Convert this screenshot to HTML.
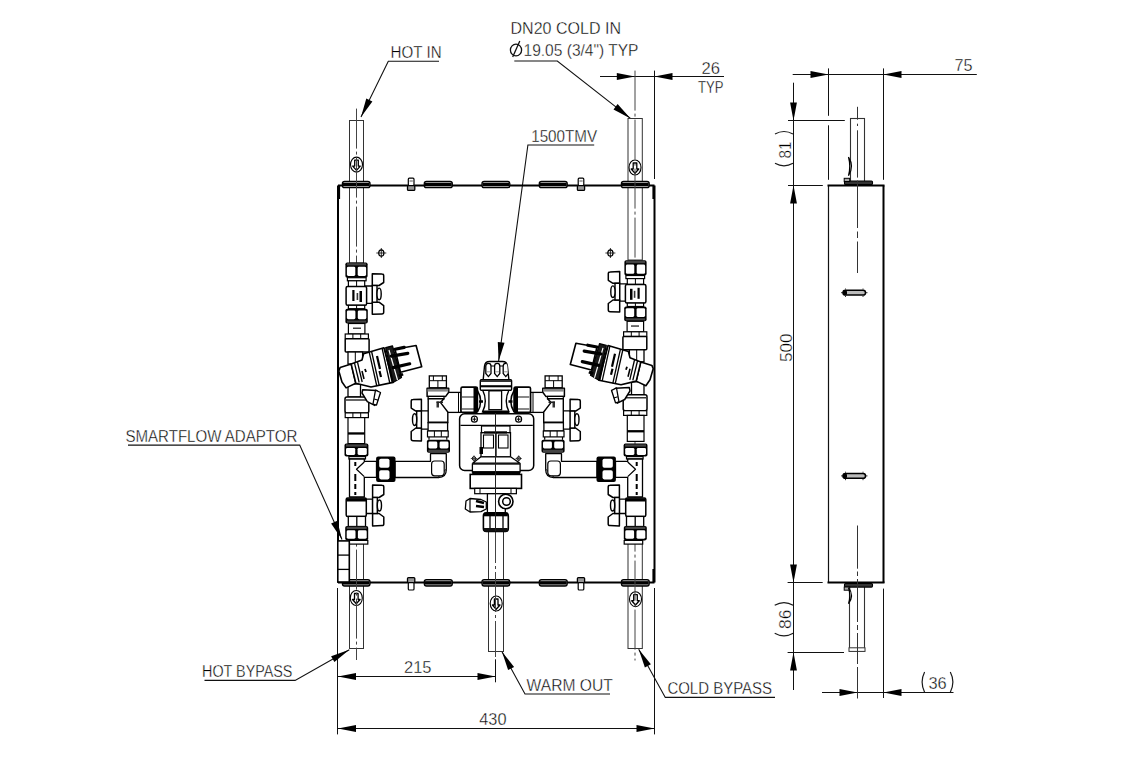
<!DOCTYPE html>
<html><head><meta charset="utf-8"><style>
html,body{margin:0;padding:0;background:#fff;width:1140px;height:760px;overflow:hidden}
svg{display:block}
text{font-family:"Liberation Sans",sans-serif;fill:#000;font-size:16px;stroke:#fff;stroke-width:0.35}
</style></head><body>
<svg width="1140" height="760" viewBox="0 0 1140 760">


<g id="texts">
<text x="390.6" y="57.6" textLength="51" lengthAdjust="spacingAndGlyphs">HOT IN</text>
<text x="510.5" y="33.6" textLength="110.5" lengthAdjust="spacingAndGlyphs">DN20 COLD IN</text>
<text x="523.5" y="55.5" textLength="115" lengthAdjust="spacingAndGlyphs">19.05 (3/4") TYP</text>
<text x="701.5" y="73.5" textLength="18.5" lengthAdjust="spacingAndGlyphs">26</text>
<text x="698" y="92.7" textLength="25.5" lengthAdjust="spacingAndGlyphs">TYP</text>
<text x="954.5" y="71" textLength="18" lengthAdjust="spacingAndGlyphs">75</text>
<text x="531.2" y="141.5" textLength="66" lengthAdjust="spacingAndGlyphs">1500TMV</text>
<text x="125.4" y="442" textLength="172" lengthAdjust="spacingAndGlyphs">SMARTFLOW ADAPTOR</text>
<text x="202.1" y="676.7" textLength="90.3" lengthAdjust="spacingAndGlyphs">HOT BYPASS</text>
<text x="404" y="672.8" textLength="27.5" lengthAdjust="spacingAndGlyphs">215</text>
<text x="479.3" y="725.2" textLength="27.2" lengthAdjust="spacingAndGlyphs">430</text>
<text x="526.6" y="690.7" textLength="86.2" lengthAdjust="spacingAndGlyphs">WARM OUT</text>
<text x="667.4" y="694.2" textLength="104.6" lengthAdjust="spacingAndGlyphs">COLD BYPASS</text>
<text x="928.5" y="689.2" textLength="18.2" lengthAdjust="spacingAndGlyphs">36</text>
<text transform="translate(791,158.6) rotate(-90)" textLength="17" lengthAdjust="spacingAndGlyphs">81</text>
<text transform="translate(791.8,362.1) rotate(-90)" textLength="28.6" lengthAdjust="spacingAndGlyphs">500</text>
<text transform="translate(791.2,628.9) rotate(-90)" textLength="19.4" lengthAdjust="spacingAndGlyphs">86</text>
</g>
<g fill="none" stroke="#1a1a1a" stroke-width="1.2">
<path d="M924.6,672 Q919.6,682 924.6,692.2 M950.3,672 Q955.5,682 950.3,692.2"/>
<path d="M775,134 Q784,129 793,134 M775,163.3 Q784,168.3 793,163.3"/>
<path d="M774.7,605.3 Q784,600 793.2,605.3 M774.7,633.2 Q784,638.4 793.2,633.2"/>
</g>
<g stroke="#111" stroke-width="1.3" fill="none"><ellipse cx="516" cy="50" rx="5.6" ry="5.9"/><line x1="512.7" y1="57" x2="519.8" y2="41.1"/></g>

<g stroke="#111" stroke-width="1" fill="none">
<line x1="600" y1="76.5" x2="724" y2="76.5"/>
<line x1="654.5" y1="70.6" x2="654.5" y2="179"/>
<line x1="337.5" y1="676.5" x2="496" y2="676.5"/>
<line x1="495.5" y1="659.3" x2="495.5" y2="682.3"/>
<line x1="337.5" y1="728.5" x2="654.5" y2="728.5"/>
<line x1="337.5" y1="588" x2="337.5" y2="734.4"/>
<line x1="654.5" y1="588" x2="654.5" y2="734.4"/>
</g>


<g stroke="#111" stroke-width="1" fill="none">
<line x1="792.7" y1="74.5" x2="976.8" y2="74.5"/>
<line x1="828.5" y1="68.4" x2="828.5" y2="115.8"/>
<line x1="828.5" y1="125.3" x2="828.5" y2="179.8"/>
<line x1="883.5" y1="68.4" x2="883.5" y2="179.8"/>
<line x1="793.5" y1="82.7" x2="793.5" y2="690"/>
<line x1="788" y1="120.5" x2="844.8" y2="120.5"/>
<line x1="788" y1="185.5" x2="822.8" y2="185.5"/>
<line x1="787.6" y1="582.5" x2="822.7" y2="582.5"/>
<line x1="787.6" y1="652.5" x2="844" y2="652.5"/>
<line x1="822" y1="692.5" x2="953.5" y2="692.5"/>
<line x1="883.5" y1="588.6" x2="883.5" y2="698"/>
</g>


<g>
<rect x="850.5" y="118.5" width="14" height="66.5" fill="#fff" stroke="#333" stroke-width="1.1"/>
<rect x="849.5" y="582.7" width="15" height="68.3" fill="#fff" stroke="#333" stroke-width="1.1"/>
<rect x="849" y="647.8" width="16" height="3.6" fill="#fff" stroke="#333" stroke-width="1"/>
<line x1="828.5" y1="185.5" x2="828.5" y2="582.7" stroke="#111" stroke-width="1.2"/>
<line x1="883.5" y1="185.5" x2="883.5" y2="582.7" stroke="#000" stroke-width="2"/>
<line x1="827.5" y1="185.5" x2="884.5" y2="185.5" stroke="#000" stroke-width="2"/>
<line x1="827.5" y1="582.5" x2="884.5" y2="582.5" stroke="#000" stroke-width="2"/>
<rect x="844.5" y="181" width="28" height="3.6" rx="1" fill="#333" stroke="#000" stroke-width="1.1"/><rect x="844.2" y="178.3" width="5.5" height="3.2" fill="#aaa" stroke="#000" stroke-width="1"/>
<rect x="844.5" y="583.5" width="28" height="3.6" rx="1" fill="#333" stroke="#000" stroke-width="1.1"/><rect x="844.2" y="587" width="5.5" height="3.2" fill="#aaa" stroke="#000" stroke-width="1"/>
<path d="M848.5,157.2 Q854.5,166.5 848.5,175.7 Q851,166.5 848.5,157.2 Z" stroke="#000" stroke-width="1.2" fill="#fff"/>
<path d="M848.5,587.5 Q854.5,595.5 848.5,603.7 Q851,595.5 848.5,587.5 Z" stroke="#000" stroke-width="1.2" fill="#fff"/>
<path d="M857.5,106.8 V119.7 M857.5,123.7 V126 M857.5,130.3 V177.6 M857.5,180.5 V228 M857.5,231.5 V238 M857.5,241.5 V273" stroke="#333" stroke-width="1" fill="none"/>
<path d="M857.5,525.5 V568.7 M857.5,571.5 V576 M857.5,579 V622 M857.5,625 V630 M857.5,633 V664 M857.5,667 V698.5" stroke="#333" stroke-width="1" fill="none"/>
<rect x="843" y="290.3" width="22.5" height="4.8" rx="2.4" fill="#bbb" stroke="#000" stroke-width="1.5"/><rect x="843" y="290.3" width="4" height="4.8" rx="1.5" fill="#000"/><path d="M841,292.7 H843 M865.5,292.7 H867.5 M845.5,288.5 V289.5 M863,288.5 V289.5 M845.5,295.8 V297 M863,295.8 V297" stroke="#000" stroke-width="0.8"/>
<rect x="843" y="473.5" width="22.5" height="4.8" rx="2.4" fill="#bbb" stroke="#000" stroke-width="1.5"/><rect x="843" y="473.5" width="4" height="4.8" rx="1.5" fill="#000"/><path d="M841,475.9 H843 M865.5,475.9 H867.5 M845.5,471.7 V472.7 M863,471.7 V472.7 M845.5,479 V480.2 M863,479 V480.2" stroke="#000" stroke-width="0.8"/>
</g>

<polygon points="634.8,76.5 616.8,79.9 616.8,73.1" fill="#000"/>
<polygon points="654.5,76.5 672.5,73.1 672.5,79.9" fill="#000"/>
<polygon points="338.0,676.5 356.0,673.1 356.0,679.9" fill="#000"/>
<polygon points="495.5,676.5 477.5,679.9 477.5,673.1" fill="#000"/>
<polygon points="338.0,728.5 356.0,725.1 356.0,731.9" fill="#000"/>
<polygon points="654.5,728.5 636.5,731.9 636.5,725.1" fill="#000"/>
<polygon points="828.5,74.5 810.5,77.9 810.5,71.1" fill="#000"/>
<polygon points="883.5,74.5 901.5,71.1 901.5,77.9" fill="#000"/>
<polygon points="793.5,120.5 790.1,102.5 796.9,102.5" fill="#000"/>
<polygon points="793.5,185.5 796.9,203.5 790.1,203.5" fill="#000"/>
<polygon points="793.5,582.5 790.1,564.5 796.9,564.5" fill="#000"/>
<polygon points="793.5,652.5 796.9,670.5 790.1,670.5" fill="#000"/>
<polygon points="857.5,692.5 839.5,695.9 839.5,689.1" fill="#000"/>
<polygon points="883.5,692.5 901.5,689.1 901.5,695.9" fill="#000"/>
<polyline points="439,61.2 388.3,61.2 361,117" fill="none" stroke="#111" stroke-width="1.1"/>
<polygon points="361.0,117.0 366.3,98.4 372.4,101.4" fill="#000"/>
<polyline points="514.3,61 557.3,61 630.5,118.4" fill="none" stroke="#111" stroke-width="1.1"/>
<polygon points="630.5,118.4 613.5,109.4 617.6,104.0" fill="#000"/>
<polyline points="594.2,145 527.9,145 498.6,361.2" fill="none" stroke="#111" stroke-width="1.1"/>
<polygon points="498.6,361.2 497.8,341.9 504.5,342.8" fill="#000"/>
<polyline points="128,445.1 299.7,445.1 342,539.4" fill="none" stroke="#111" stroke-width="1.1"/>
<polygon points="342.0,539.4 331.1,523.5 337.3,520.7" fill="#000"/>
<polyline points="204.5,680.4 295.1,680.4 349.3,649.8" fill="none" stroke="#111" stroke-width="1.1"/>
<polygon points="349.3,649.8 334.4,662.1 331.1,656.2" fill="#000"/>
<polyline points="610,694 525,694 502,651.8" fill="none" stroke="#111" stroke-width="1.1"/>
<polygon points="502.0,651.8 514.1,666.9 508.1,670.1" fill="#000"/>
<polyline points="775,697.4 665.3,697.4 638.7,649.2" fill="none" stroke="#111" stroke-width="1.1"/>
<polygon points="638.7,649.2 650.9,664.2 644.9,667.5" fill="#000"/>
<g id="front">
<line x1="338.0" y1="185.5" x2="654.5" y2="185.5" stroke="#000" stroke-width="2.2"/>
<line x1="338.0" y1="582.5" x2="654.5" y2="582.5" stroke="#000" stroke-width="2.2"/>
<line x1="338.0" y1="185.5" x2="338.0" y2="582.5" stroke="#000" stroke-width="2"/>
<line x1="654.5" y1="185.5" x2="654.5" y2="582.5" stroke="#000" stroke-width="2"/>
<line x1="339.0" y1="186.0" x2="339.0" y2="199.0" stroke="#000" stroke-width="2.2"/>
<line x1="339.0" y1="569.0" x2="339.0" y2="582.0" stroke="#000" stroke-width="2.2"/>
<line x1="653.5" y1="186.0" x2="653.5" y2="199.0" stroke="#000" stroke-width="2.2"/>
<line x1="653.5" y1="569.0" x2="653.5" y2="582.0" stroke="#000" stroke-width="2.2"/>
<rect x="349.5" y="120.5" width="14.0" height="142.5" rx="0" fill="#fff" stroke="#333" stroke-width="1"/>
<rect x="628.0" y="118.5" width="14.3" height="141.5" rx="0" fill="#fff" stroke="#333" stroke-width="1"/>
<rect x="349.5" y="540.0" width="14.0" height="108.5" rx="0" fill="#fff" stroke="#333" stroke-width="1"/>
<rect x="628.0" y="540.0" width="14.3" height="108.5" rx="0" fill="#fff" stroke="#333" stroke-width="1"/>
<rect x="488.5" y="528.0" width="15.0" height="123.5" rx="0" fill="#fff" stroke="#333" stroke-width="1"/>
<rect x="342.4" y="181.3" width="27.6" height="6.4" rx="2.2" fill="#aaa" stroke="#000" stroke-width="1.3"/>
<rect x="343.0" y="182.9" width="26.4" height="3.2" rx="0" fill="#000" stroke="none" stroke-width="0"/>
<rect x="342.4" y="579.6" width="27.6" height="6.4" rx="2.2" fill="#aaa" stroke="#000" stroke-width="1.3"/>
<rect x="343.0" y="581.2" width="26.4" height="3.2" rx="0" fill="#000" stroke="none" stroke-width="0"/>
<rect x="621.4" y="181.3" width="27.8" height="6.4" rx="2.2" fill="#aaa" stroke="#000" stroke-width="1.3"/>
<rect x="622.0" y="182.9" width="26.6" height="3.2" rx="0" fill="#000" stroke="none" stroke-width="0"/>
<rect x="621.4" y="579.6" width="27.8" height="6.4" rx="2.2" fill="#aaa" stroke="#000" stroke-width="1.3"/>
<rect x="622.0" y="581.2" width="26.6" height="3.2" rx="0" fill="#000" stroke="none" stroke-width="0"/>
<rect x="424.3" y="181.3" width="28.0" height="6.4" rx="2.2" fill="#aaa" stroke="#000" stroke-width="1.3"/>
<rect x="424.9" y="182.9" width="26.8" height="3.2" rx="0" fill="#000" stroke="none" stroke-width="0"/>
<rect x="424.3" y="579.6" width="28.0" height="6.4" rx="2.2" fill="#aaa" stroke="#000" stroke-width="1.3"/>
<rect x="424.9" y="581.2" width="26.8" height="3.2" rx="0" fill="#000" stroke="none" stroke-width="0"/>
<rect x="482.0" y="181.3" width="27.8" height="6.4" rx="2.2" fill="#aaa" stroke="#000" stroke-width="1.3"/>
<rect x="482.6" y="182.9" width="26.6" height="3.2" rx="0" fill="#000" stroke="none" stroke-width="0"/>
<rect x="482.0" y="579.6" width="27.8" height="6.4" rx="2.2" fill="#aaa" stroke="#000" stroke-width="1.3"/>
<rect x="482.6" y="581.2" width="26.6" height="3.2" rx="0" fill="#000" stroke="none" stroke-width="0"/>
<rect x="539.3" y="181.3" width="27.9" height="6.4" rx="2.2" fill="#aaa" stroke="#000" stroke-width="1.3"/>
<rect x="539.9" y="182.9" width="26.7" height="3.2" rx="0" fill="#000" stroke="none" stroke-width="0"/>
<rect x="539.3" y="579.6" width="27.9" height="6.4" rx="2.2" fill="#aaa" stroke="#000" stroke-width="1.3"/>
<rect x="539.9" y="581.2" width="26.7" height="3.2" rx="0" fill="#000" stroke="none" stroke-width="0"/>
<rect x="408.3" y="178.2" width="5.7" height="7.4" rx="1" fill="#fff" stroke="#000" stroke-width="1.2"/>
<rect x="409.5" y="180.0" width="3.3" height="2.0" rx="0" fill="#aaa" stroke="none" stroke-width="0"/>
<rect x="407.5" y="185.6" width="7.3" height="4.8" rx="1" fill="#999" stroke="#000" stroke-width="1.3"/>
<rect x="407.5" y="577.6" width="7.3" height="5.0" rx="1" fill="#999" stroke="#000" stroke-width="1.3"/>
<rect x="408.3" y="582.6" width="5.7" height="7.4" rx="1" fill="#fff" stroke="#000" stroke-width="1.2"/>
<rect x="578.2" y="178.2" width="5.6" height="7.4" rx="1" fill="#fff" stroke="#000" stroke-width="1.2"/>
<rect x="579.4" y="180.0" width="3.2" height="2.0" rx="0" fill="#aaa" stroke="none" stroke-width="0"/>
<rect x="577.4" y="185.6" width="7.2" height="4.8" rx="1" fill="#999" stroke="#000" stroke-width="1.3"/>
<rect x="577.4" y="577.6" width="7.2" height="5.0" rx="1" fill="#999" stroke="#000" stroke-width="1.3"/>
<rect x="578.2" y="582.6" width="5.6" height="7.4" rx="1" fill="#fff" stroke="#000" stroke-width="1.2"/>
<ellipse cx="356.5" cy="164.6" rx="6" ry="7.5" fill="#fff" stroke="#000" stroke-width="1.1"/>
<path d="M354.7,160.1 L358.3,160.1 L358.3,166.1 L360.3,166.1 L356.5,170.4 L352.7,166.1 L354.7,166.1 Z" fill="#fff" stroke="#000" stroke-width="1.3" stroke-linejoin="round"/>
<ellipse cx="635" cy="167.5" rx="6" ry="7.5" fill="#fff" stroke="#000" stroke-width="1.1"/>
<path d="M633.2,163.0 L636.8,163.0 L636.8,169.0 L638.8,169.0 L635.0,173.3 L631.2,169.0 L633.2,169.0 Z" fill="#fff" stroke="#000" stroke-width="1.3" stroke-linejoin="round"/>
<ellipse cx="356.3" cy="598" rx="6" ry="7.5" fill="#fff" stroke="#000" stroke-width="1.1"/>
<path d="M354.5,593.5 L358.1,593.5 L358.1,599.5 L360.1,599.5 L356.3,603.8 L352.5,599.5 L354.5,599.5 Z" fill="#fff" stroke="#000" stroke-width="1.3" stroke-linejoin="round"/>
<ellipse cx="496.2" cy="603.5" rx="6" ry="7.5" fill="#fff" stroke="#000" stroke-width="1.1"/>
<path d="M494.4,599.0 L498.0,599.0 L498.0,605.0 L500.0,605.0 L496.2,609.3 L492.4,605.0 L494.4,605.0 Z" fill="#fff" stroke="#000" stroke-width="1.3" stroke-linejoin="round"/>
<ellipse cx="635.5" cy="599.2" rx="6" ry="7.5" fill="#fff" stroke="#000" stroke-width="1.1"/>
<path d="M633.7,594.7 L637.3,594.7 L637.3,600.7 L639.3,600.7 L635.5,605.0 L631.7,600.7 L633.7,600.7 Z" fill="#fff" stroke="#000" stroke-width="1.3" stroke-linejoin="round"/>
</g>
<line x1="356.5" y1="108.6" x2="356.5" y2="660" stroke="#444" stroke-width="1" stroke-dasharray="40 3 3 3"/>
<line x1="635" y1="70.6" x2="635" y2="660.5" stroke="#444" stroke-width="1" stroke-dasharray="40 3 3 3"/>
<line x1="495.5" y1="425" x2="495.5" y2="657" stroke="#444" stroke-width="1" stroke-dasharray="40 3 3 3"/>
<g id="hot"><rect x="345.4" y="262.4" width="22.2" height="15.3" rx="1.8" fill="#000"/><rect x="346.9" y="263.2" width="19.2" height="2.2" fill="#444"/><rect x="346.9" y="266.7" width="8.4" height="9.3" rx="1.4" fill="#fff"/><rect x="357.7" y="266.7" width="8.4" height="9.3" rx="1.4" fill="#fff"/><rect x="347.4" y="277.7" width="18.7" height="3.1" rx="0" fill="#fff" stroke="#000" stroke-width="1.2"/><rect x="348.4" y="280.8" width="16.3" height="5.8" rx="0" fill="#fff" stroke="#000" stroke-width="1.2"/><line x1="356.6" y1="280.8" x2="356.6" y2="286.6" stroke="#000" stroke-width="1"/><path d="M365.0,286.0 L372.5,286.0 L372.5,303.3 L365.0,303.3 L363.5,294.5 Z" fill="#fff" stroke="#000" stroke-width="1.3" stroke-linejoin="round"/><path d="M372.3,273.8 L381.9,274.1 Q383.7,274.1 383.7,275.8 L383.7,282.5 L379.0,285.5 L372.3,285.5 Z" fill="#fff" stroke="#000" stroke-width="1.5" stroke-linejoin="round"/><path d="M372.3,314.2 L381.9,313.9 Q383.7,313.9 383.7,312.2 L383.7,305.7 L379.0,302.2 L372.3,302.2 Z" fill="#fff" stroke="#000" stroke-width="1.5" stroke-linejoin="round"/><rect x="372.3" y="285.5" width="4.7" height="16.7" rx="0" fill="#fff" stroke="#000" stroke-width="1.4"/><ellipse cx="379.1" cy="293.9" rx="2.1" ry="5.8" fill="#fff" stroke="#000" stroke-width="1.4"/><rect x="346.1" y="286.6" width="20.5" height="18.7" rx="1.5" fill="#fff" stroke="#000" stroke-width="1.5"/><rect x="352.3" y="290.0" width="2.2" height="11.0" rx="0" fill="#000" stroke="none" stroke-width="0"/><rect x="359.5" y="291.0" width="2.5" height="11.0" rx="0" fill="#000" stroke="none" stroke-width="0"/><rect x="356.6" y="293.0" width="1.6" height="7.0" rx="0" fill="#333" stroke="none" stroke-width="0"/><rect x="348.4" y="305.3" width="16.3" height="3.4" rx="0" fill="#fff" stroke="#000" stroke-width="1.2"/><line x1="356.6" y1="305.3" x2="356.6" y2="308.7" stroke="#000" stroke-width="1"/><rect x="345.4" y="308.7" width="22.4" height="14.8" rx="1.8" fill="#000"/><rect x="346.9" y="320.5" width="19.4" height="2.2" fill="#444"/><rect x="346.9" y="310.4" width="8.5" height="8.8" rx="1.4" fill="#fff"/><rect x="357.8" y="310.4" width="8.5" height="8.8" rx="1.4" fill="#fff"/><rect x="348.4" y="323.5" width="16.5" height="10.5" rx="0" fill="#fff" stroke="#000" stroke-width="1.2"/><rect x="353.0" y="327.5" width="8.0" height="1.5" rx="0" fill="#444" stroke="none" stroke-width="0"/><rect x="345.2" y="334.0" width="23.2" height="4.7" rx="0" fill="#fff" stroke="#000" stroke-width="1.2"/><line x1="352.9" y1="334.0" x2="352.9" y2="338.7" stroke="#000" stroke-width="1"/><line x1="360.7" y1="334.0" x2="360.7" y2="338.7" stroke="#000" stroke-width="1"/><rect x="345.2" y="338.7" width="23.9" height="13.3" rx="1" fill="#fff" stroke="#000" stroke-width="1.5"/><rect x="348.0" y="352.0" width="14.6" height="12.0" rx="0" fill="#fff" stroke="#000" stroke-width="1.3"/><line x1="355.3" y1="352.0" x2="355.3" y2="364.0" stroke="#000" stroke-width="1"/><rect x="348.0" y="384.0" width="12.5" height="13.0" rx="0" fill="#fff" stroke="#000" stroke-width="1.3"/><rect x="345.0" y="396.9" width="23.8" height="16.0" rx="2" fill="#fff" stroke="#000" stroke-width="1.5"/><line x1="346.0" y1="400.0" x2="368.0" y2="400.0" stroke="#000" stroke-width="1.2"/><rect x="345.2" y="412.9" width="23.2" height="4.7" rx="0" fill="#fff" stroke="#000" stroke-width="1.2"/><line x1="352.9" y1="412.9" x2="352.9" y2="417.6" stroke="#000" stroke-width="1"/><line x1="360.7" y1="412.9" x2="360.7" y2="417.6" stroke="#000" stroke-width="1"/><rect x="348.0" y="417.6" width="16.7" height="26.0" rx="0" fill="#fff" stroke="#000" stroke-width="1.2"/><rect x="348.0" y="432.3" width="16.7" height="2.3" rx="0" fill="#000" stroke="none" stroke-width="0"/><path d="M362.7,389.7 L376.5,390.5 L379.8,393.5 L374.7,405.4 L367.3,401.7 L362.0,393.0 Z" fill="#fff" stroke="#000" stroke-width="1.5" stroke-linejoin="round"/><path d="M375.5,390.2 L380.5,392.5 L376.5,405.0 L373.0,404.0 Z" fill="#fff" stroke="#000" stroke-width="1.3" stroke-linejoin="round"/><line x1="374.2" y1="399.0" x2="378.3" y2="400.2" stroke="#000" stroke-width="1.1"/><path d="M340.1,367.6 L351.2,364.1 L355.8,383.3 L346.1,387.9 L342.0,382.0 L338.8,371.0 Z" fill="#fff" stroke="#000" stroke-width="1.6" stroke-linejoin="round"/><path d="M351.2,364.1 L362.0,360.0 L363.6,353.8 L383.9,347.8 L393.1,382.4 L371.0,387.0 L355.8,383.3 Z" fill="#fff" stroke="#000" stroke-width="1.6" stroke-linejoin="round"/><line x1="354.5" y1="363.2" x2="359.2" y2="382.5" stroke="#000" stroke-width="1.3"/><line x1="357.5" y1="362.2" x2="362.2" y2="382.0" stroke="#000" stroke-width="1.3"/><line x1="369.2" y1="352.2" x2="376.8" y2="386.0" stroke="#000" stroke-width="1.3"/><line x1="371.6" y1="351.5" x2="379.2" y2="385.5" stroke="#000" stroke-width="1.3"/><line x1="382.1" y1="348.3" x2="389.8" y2="383.0" stroke="#000" stroke-width="1.3"/><line x1="384.5" y1="347.8" x2="392.2" y2="382.5" stroke="#000" stroke-width="1.3"/><line x1="377.0" y1="356.0" x2="380.0" y2="369.0" stroke="#000" stroke-width="2.2"/><line x1="379.5" y1="371.0" x2="381.0" y2="377.0" stroke="#000" stroke-width="2.2"/><line x1="362.0" y1="371.0" x2="364.0" y2="379.0" stroke="#000" stroke-width="1.6"/><line x1="365.0" y1="369.0" x2="366.0" y2="372.0" stroke="#000" stroke-width="1.8"/><path d="M385.7,347.6 L392.5,345.8 L401.5,377.5 L393.1,382.4 Z" fill="#1a1a1a" stroke="#000" stroke-width="1.2" stroke-linejoin="round"/><line x1="389.0" y1="350.0" x2="397.5" y2="380.0" stroke="#fff" stroke-width="1.2"/><path d="M395.0,349.2 L416.1,345.5 L421.7,366.7 L400.5,372.2 Z" fill="#fff" stroke="#000" stroke-width="1.6" stroke-linejoin="round"/><path d="M395,349.2 L404.2,347.4 M391.3,356.1 L407.8,353.3 M393.1,367.6 L409.7,363.8" stroke="#000" stroke-width="3.2" stroke-linecap="round"/><line x1="399.0" y1="376.0" x2="403.0" y2="374.0" stroke="#000" stroke-width="3"/><rect x="344.5" y="443.6" width="23.9" height="13.0" rx="1.8" fill="#000"/><rect x="346.0" y="444.4" width="20.9" height="2.2" fill="#444"/><rect x="346.0" y="447.9" width="9.2" height="7.0" rx="1.4" fill="#fff"/><rect x="357.6" y="447.9" width="9.2" height="7.0" rx="1.4" fill="#fff"/><rect x="348.9" y="456.6" width="16.6" height="2.4" rx="0" fill="#fff" stroke="#000" stroke-width="1.2"/><path d="M349.5,459.0 L364.3,459.0 L364.3,461.3 L376.5,461.3 L376.5,477.3 L364.3,477.3 L364.3,497.0 L349.5,497.0 Z" fill="#fff" stroke="#000" stroke-width="1.3" stroke-linejoin="round"/><path d="M364.3,462.0 L356.5,469.3 L364.3,476.6" fill="none" stroke="#000" stroke-width="1.2" stroke-linejoin="round"/><rect x="354.3" y="462.0" width="2.0" height="4.0" rx="0" fill="#000" stroke="none" stroke-width="0"/><rect x="354.3" y="474.0" width="2.0" height="7.0" rx="0" fill="#000" stroke="none" stroke-width="0"/><rect x="354.3" y="484.0" width="2.0" height="5.0" rx="0" fill="#000" stroke="none" stroke-width="0"/><rect x="354.3" y="492.0" width="2.0" height="3.0" rx="0" fill="#000" stroke="none" stroke-width="0"/><path d="M395.0,461.3 L430.5,461.3 L430.5,453.7 L446.3,453.7 L446.3,469.5 L438.3,477.5 L395.0,477.5 Z" fill="#fff" stroke="#000" stroke-width="1.3" stroke-linejoin="round"/><path d="M446.3,469.5 Q446.3,477.5 438.3,477.5" fill="#fff" stroke="#000" stroke-width="1.3"/><rect x="431.6" y="461.0" width="12.6" height="14.8" rx="3" fill="#fff" stroke="#000" stroke-width="1.2"/><rect x="376.1" y="456.6" width="19.4" height="25.4" rx="2" fill="#000"/><rect x="379.2" y="458.8" width="10.3" height="9.0" rx="1.8" fill="#fff" stroke="none" stroke-width="0"/><rect x="379.2" y="470.2" width="10.3" height="9.2" rx="1.8" fill="#fff" stroke="none" stroke-width="0"/><path d="M366.0,499.2 L372.5,499.2 L372.5,513.5 L366.0,513.5 Z" fill="#fff" stroke="#000" stroke-width="1.3" stroke-linejoin="round"/><path d="M372.6,485.0 L382.0,485.3 Q383.8,485.3 383.8,487.0 L383.8,494.5 L379.1,497.5 L372.6,497.5 Z" fill="#fff" stroke="#000" stroke-width="1.5" stroke-linejoin="round"/><path d="M372.6,525.9 L382.0,525.6 Q383.8,525.6 383.8,523.9 L383.8,517.0 L379.1,513.5 L372.6,513.5 Z" fill="#fff" stroke="#000" stroke-width="1.5" stroke-linejoin="round"/><rect x="372.6" y="497.5" width="4.7" height="16.0" rx="0" fill="#fff" stroke="#000" stroke-width="1.4"/><ellipse cx="379.4" cy="505.5" rx="2.1" ry="5.5" fill="#fff" stroke="#000" stroke-width="1.4"/><rect x="346.2" y="498.0" width="20.1" height="18.4" rx="1.5" fill="#fff" stroke="#000" stroke-width="1.5"/><rect x="346.5" y="498.3" width="19.5" height="3.2" rx="0" fill="#000" stroke="none" stroke-width="0"/><rect x="348.3" y="516.4" width="17.2" height="10.1" rx="0" fill="#fff" stroke="#000" stroke-width="1.3"/><line x1="356.8" y1="516.4" x2="356.8" y2="526.5" stroke="#000" stroke-width="1.3"/><rect x="345.2" y="526.0" width="23.0" height="14.4" rx="1.8" fill="#000"/><rect x="346.7" y="526.8" width="20.0" height="2.2" fill="#444"/><rect x="346.7" y="530.3" width="8.8" height="8.4" rx="1.4" fill="#fff"/><rect x="357.9" y="530.3" width="8.8" height="8.4" rx="1.4" fill="#fff"/><rect x="349.3" y="540.4" width="18.5" height="3.7" rx="0" fill="#fff" stroke="#000" stroke-width="1.2"/></g>
<g id="cold" transform="translate(992,-2.2) scale(-1,1)"><rect x="345.4" y="262.4" width="22.2" height="15.3" rx="1.8" fill="#000"/><rect x="346.9" y="263.2" width="19.2" height="2.2" fill="#444"/><rect x="346.9" y="266.7" width="8.4" height="9.3" rx="1.4" fill="#fff"/><rect x="357.7" y="266.7" width="8.4" height="9.3" rx="1.4" fill="#fff"/><rect x="347.4" y="277.7" width="18.7" height="3.1" rx="0" fill="#fff" stroke="#000" stroke-width="1.2"/><rect x="348.4" y="280.8" width="16.3" height="5.8" rx="0" fill="#fff" stroke="#000" stroke-width="1.2"/><line x1="356.6" y1="280.8" x2="356.6" y2="286.6" stroke="#000" stroke-width="1"/><path d="M365.0,286.0 L372.5,286.0 L372.5,303.3 L365.0,303.3 L363.5,294.5 Z" fill="#fff" stroke="#000" stroke-width="1.3" stroke-linejoin="round"/><path d="M372.3,273.8 L381.9,274.1 Q383.7,274.1 383.7,275.8 L383.7,282.5 L379.0,285.5 L372.3,285.5 Z" fill="#fff" stroke="#000" stroke-width="1.5" stroke-linejoin="round"/><path d="M372.3,314.2 L381.9,313.9 Q383.7,313.9 383.7,312.2 L383.7,305.7 L379.0,302.2 L372.3,302.2 Z" fill="#fff" stroke="#000" stroke-width="1.5" stroke-linejoin="round"/><rect x="372.3" y="285.5" width="4.7" height="16.7" rx="0" fill="#fff" stroke="#000" stroke-width="1.4"/><ellipse cx="379.1" cy="293.9" rx="2.1" ry="5.8" fill="#fff" stroke="#000" stroke-width="1.4"/><rect x="346.1" y="286.6" width="20.5" height="18.7" rx="1.5" fill="#fff" stroke="#000" stroke-width="1.5"/><rect x="352.3" y="290.0" width="2.2" height="11.0" rx="0" fill="#000" stroke="none" stroke-width="0"/><rect x="359.5" y="291.0" width="2.5" height="11.0" rx="0" fill="#000" stroke="none" stroke-width="0"/><rect x="356.6" y="293.0" width="1.6" height="7.0" rx="0" fill="#333" stroke="none" stroke-width="0"/><rect x="348.4" y="305.3" width="16.3" height="3.4" rx="0" fill="#fff" stroke="#000" stroke-width="1.2"/><line x1="356.6" y1="305.3" x2="356.6" y2="308.7" stroke="#000" stroke-width="1"/><rect x="345.4" y="308.7" width="22.4" height="14.8" rx="1.8" fill="#000"/><rect x="346.9" y="320.5" width="19.4" height="2.2" fill="#444"/><rect x="346.9" y="310.4" width="8.5" height="8.8" rx="1.4" fill="#fff"/><rect x="357.8" y="310.4" width="8.5" height="8.8" rx="1.4" fill="#fff"/><rect x="348.4" y="323.5" width="16.5" height="10.5" rx="0" fill="#fff" stroke="#000" stroke-width="1.2"/><rect x="353.0" y="327.5" width="8.0" height="1.5" rx="0" fill="#444" stroke="none" stroke-width="0"/><rect x="345.2" y="334.0" width="23.2" height="4.7" rx="0" fill="#fff" stroke="#000" stroke-width="1.2"/><line x1="352.9" y1="334.0" x2="352.9" y2="338.7" stroke="#000" stroke-width="1"/><line x1="360.7" y1="334.0" x2="360.7" y2="338.7" stroke="#000" stroke-width="1"/><rect x="345.2" y="338.7" width="23.9" height="13.3" rx="1" fill="#fff" stroke="#000" stroke-width="1.5"/><rect x="348.0" y="352.0" width="14.6" height="12.0" rx="0" fill="#fff" stroke="#000" stroke-width="1.3"/><line x1="355.3" y1="352.0" x2="355.3" y2="364.0" stroke="#000" stroke-width="1"/><rect x="348.0" y="384.0" width="12.5" height="13.0" rx="0" fill="#fff" stroke="#000" stroke-width="1.3"/><rect x="345.0" y="396.9" width="23.8" height="16.0" rx="2" fill="#fff" stroke="#000" stroke-width="1.5"/><line x1="346.0" y1="400.0" x2="368.0" y2="400.0" stroke="#000" stroke-width="1.2"/><rect x="345.2" y="412.9" width="23.2" height="4.7" rx="0" fill="#fff" stroke="#000" stroke-width="1.2"/><line x1="352.9" y1="412.9" x2="352.9" y2="417.6" stroke="#000" stroke-width="1"/><line x1="360.7" y1="412.9" x2="360.7" y2="417.6" stroke="#000" stroke-width="1"/><rect x="348.0" y="417.6" width="16.7" height="26.0" rx="0" fill="#fff" stroke="#000" stroke-width="1.2"/><rect x="348.0" y="432.3" width="16.7" height="2.3" rx="0" fill="#000" stroke="none" stroke-width="0"/><path d="M362.7,389.7 L376.5,390.5 L379.8,393.5 L374.7,405.4 L367.3,401.7 L362.0,393.0 Z" fill="#fff" stroke="#000" stroke-width="1.5" stroke-linejoin="round"/><path d="M375.5,390.2 L380.5,392.5 L376.5,405.0 L373.0,404.0 Z" fill="#fff" stroke="#000" stroke-width="1.3" stroke-linejoin="round"/><line x1="374.2" y1="399.0" x2="378.3" y2="400.2" stroke="#000" stroke-width="1.1"/><path d="M340.1,367.6 L351.2,364.1 L355.8,383.3 L346.1,387.9 L342.0,382.0 L338.8,371.0 Z" fill="#fff" stroke="#000" stroke-width="1.6" stroke-linejoin="round"/><path d="M351.2,364.1 L362.0,360.0 L363.6,353.8 L383.9,347.8 L393.1,382.4 L371.0,387.0 L355.8,383.3 Z" fill="#fff" stroke="#000" stroke-width="1.6" stroke-linejoin="round"/><line x1="354.5" y1="363.2" x2="359.2" y2="382.5" stroke="#000" stroke-width="1.3"/><line x1="357.5" y1="362.2" x2="362.2" y2="382.0" stroke="#000" stroke-width="1.3"/><line x1="369.2" y1="352.2" x2="376.8" y2="386.0" stroke="#000" stroke-width="1.3"/><line x1="371.6" y1="351.5" x2="379.2" y2="385.5" stroke="#000" stroke-width="1.3"/><line x1="382.1" y1="348.3" x2="389.8" y2="383.0" stroke="#000" stroke-width="1.3"/><line x1="384.5" y1="347.8" x2="392.2" y2="382.5" stroke="#000" stroke-width="1.3"/><line x1="377.0" y1="356.0" x2="380.0" y2="369.0" stroke="#000" stroke-width="2.2"/><line x1="379.5" y1="371.0" x2="381.0" y2="377.0" stroke="#000" stroke-width="2.2"/><line x1="362.0" y1="371.0" x2="364.0" y2="379.0" stroke="#000" stroke-width="1.6"/><line x1="365.0" y1="369.0" x2="366.0" y2="372.0" stroke="#000" stroke-width="1.8"/><path d="M385.7,347.6 L392.5,345.8 L401.5,377.5 L393.1,382.4 Z" fill="#1a1a1a" stroke="#000" stroke-width="1.2" stroke-linejoin="round"/><line x1="389.0" y1="350.0" x2="397.5" y2="380.0" stroke="#fff" stroke-width="1.2"/><path d="M395.0,349.2 L416.1,345.5 L421.7,366.7 L400.5,372.2 Z" fill="#fff" stroke="#000" stroke-width="1.6" stroke-linejoin="round"/><path d="M395,349.2 L404.2,347.4 M391.3,356.1 L407.8,353.3 M393.1,367.6 L409.7,363.8" stroke="#000" stroke-width="3.2" stroke-linecap="round"/><line x1="399.0" y1="376.0" x2="403.0" y2="374.0" stroke="#000" stroke-width="3"/></g>
<g id="coldl" transform="translate(992,0) scale(-1,1)"><rect x="344.5" y="443.6" width="23.9" height="13.0" rx="1.8" fill="#000"/><rect x="346.0" y="444.4" width="20.9" height="2.2" fill="#444"/><rect x="346.0" y="447.9" width="9.2" height="7.0" rx="1.4" fill="#fff"/><rect x="357.6" y="447.9" width="9.2" height="7.0" rx="1.4" fill="#fff"/><rect x="348.9" y="456.6" width="16.6" height="2.4" rx="0" fill="#fff" stroke="#000" stroke-width="1.2"/><path d="M349.5,459.0 L364.3,459.0 L364.3,461.3 L376.5,461.3 L376.5,477.3 L364.3,477.3 L364.3,497.0 L349.5,497.0 Z" fill="#fff" stroke="#000" stroke-width="1.3" stroke-linejoin="round"/><path d="M364.3,462.0 L356.5,469.3 L364.3,476.6" fill="none" stroke="#000" stroke-width="1.2" stroke-linejoin="round"/><rect x="354.3" y="462.0" width="2.0" height="4.0" rx="0" fill="#000" stroke="none" stroke-width="0"/><rect x="354.3" y="474.0" width="2.0" height="7.0" rx="0" fill="#000" stroke="none" stroke-width="0"/><rect x="354.3" y="484.0" width="2.0" height="5.0" rx="0" fill="#000" stroke="none" stroke-width="0"/><rect x="354.3" y="492.0" width="2.0" height="3.0" rx="0" fill="#000" stroke="none" stroke-width="0"/><path d="M395.0,461.3 L430.5,461.3 L430.5,453.7 L446.3,453.7 L446.3,469.5 L438.3,477.5 L395.0,477.5 Z" fill="#fff" stroke="#000" stroke-width="1.3" stroke-linejoin="round"/><path d="M446.3,469.5 Q446.3,477.5 438.3,477.5" fill="#fff" stroke="#000" stroke-width="1.3"/><rect x="431.6" y="461.0" width="12.6" height="14.8" rx="3" fill="#fff" stroke="#000" stroke-width="1.2"/><rect x="376.1" y="456.6" width="19.4" height="25.4" rx="2" fill="#000"/><rect x="379.2" y="458.8" width="10.3" height="9.0" rx="1.8" fill="#fff" stroke="none" stroke-width="0"/><rect x="379.2" y="470.2" width="10.3" height="9.2" rx="1.8" fill="#fff" stroke="none" stroke-width="0"/><path d="M366.0,499.2 L372.5,499.2 L372.5,513.5 L366.0,513.5 Z" fill="#fff" stroke="#000" stroke-width="1.3" stroke-linejoin="round"/><path d="M372.6,485.0 L382.0,485.3 Q383.8,485.3 383.8,487.0 L383.8,494.5 L379.1,497.5 L372.6,497.5 Z" fill="#fff" stroke="#000" stroke-width="1.5" stroke-linejoin="round"/><path d="M372.6,525.9 L382.0,525.6 Q383.8,525.6 383.8,523.9 L383.8,517.0 L379.1,513.5 L372.6,513.5 Z" fill="#fff" stroke="#000" stroke-width="1.5" stroke-linejoin="round"/><rect x="372.6" y="497.5" width="4.7" height="16.0" rx="0" fill="#fff" stroke="#000" stroke-width="1.4"/><ellipse cx="379.4" cy="505.5" rx="2.1" ry="5.5" fill="#fff" stroke="#000" stroke-width="1.4"/><rect x="346.2" y="498.0" width="20.1" height="18.4" rx="1.5" fill="#fff" stroke="#000" stroke-width="1.5"/><rect x="346.5" y="498.3" width="19.5" height="3.2" rx="0" fill="#000" stroke="none" stroke-width="0"/><rect x="348.3" y="516.4" width="17.2" height="10.1" rx="0" fill="#fff" stroke="#000" stroke-width="1.3"/><line x1="356.8" y1="516.4" x2="356.8" y2="526.5" stroke="#000" stroke-width="1.3"/><rect x="345.2" y="526.0" width="23.0" height="14.4" rx="1.8" fill="#000"/><rect x="346.7" y="526.8" width="20.0" height="2.2" fill="#444"/><rect x="346.7" y="530.3" width="8.8" height="8.4" rx="1.4" fill="#fff"/><rect x="357.9" y="530.3" width="8.8" height="8.4" rx="1.4" fill="#fff"/><rect x="349.3" y="540.4" width="18.5" height="3.7" rx="0" fill="#fff" stroke="#000" stroke-width="1.2"/></g>
<g id="tmvl"><rect x="440.0" y="392.4" width="21.0" height="20.0" rx="0" fill="#fff" stroke="#000" stroke-width="1.3"/><rect x="461.0" y="387.1" width="16.4" height="25.3" rx="1.5" fill="#fff" stroke="#000" stroke-width="1.6"/><rect x="462.0" y="396.0" width="12.0" height="2.0" rx="0" fill="#888" stroke="none" stroke-width="0"/><rect x="462.0" y="408.0" width="12.0" height="2.0" rx="0" fill="#888" stroke="none" stroke-width="0"/><line x1="458.5" y1="392.4" x2="458.5" y2="412.4" stroke="#000" stroke-width="1"/><rect x="473.5" y="387.5" width="4.1" height="24.5" rx="0" fill="#000" stroke="none" stroke-width="0"/><path d="M477.4,390.5 Q484,401.5 477.4,412" fill="none" stroke="#000" stroke-width="1.5"/><line x1="479.0" y1="401.5" x2="483.0" y2="401.5" stroke="#000" stroke-width="2.5"/><rect x="421.0" y="410.8" width="9.0" height="18.4" rx="1" fill="#fff" stroke="#000" stroke-width="1.3"/><path d="M421.4,399.3 L413.1,399.6 Q411.2,399.6 411.2,401.3 L411.2,408.1 L415.9,411.1 L421.4,411.1 Z" fill="#fff" stroke="#000" stroke-width="1.5" stroke-linejoin="round"/><path d="M421.4,441.0 L413.1,440.7 Q411.2,440.7 411.2,439.0 L411.2,431.5 L415.9,428.0 L421.4,428.0 Z" fill="#fff" stroke="#000" stroke-width="1.5" stroke-linejoin="round"/><rect x="416.7" y="411.1" width="4.7" height="16.9" rx="0" fill="#fff" stroke="#000" stroke-width="1.4"/><ellipse cx="414.6" cy="419.6" rx="2.1" ry="5.9" fill="#fff" stroke="#000" stroke-width="1.4"/><rect x="429.3" y="375.9" width="17.1" height="11.9" rx="0" fill="#fff" stroke="#000" stroke-width="1.3"/><line x1="429.3" y1="380.7" x2="446.4" y2="380.7" stroke="#000" stroke-width="1"/><line x1="433.4" y1="375.9" x2="433.4" y2="380.7" stroke="#000" stroke-width="1"/><line x1="442.3" y1="375.9" x2="442.3" y2="380.7" stroke="#000" stroke-width="1"/><line x1="437.9" y1="380.7" x2="437.9" y2="387.8" stroke="#000" stroke-width="1"/><path d="M427.1,388.3 L448.7,388.3 L448.7,392.2 L445.5,396.6 L427.1,396.6 Z" fill="#fff" stroke="#000" stroke-width="1.5" stroke-linejoin="round"/><rect x="427.5" y="388.8" width="20.8" height="2.8" rx="0" fill="#888" stroke="none" stroke-width="0"/><rect x="428.2" y="396.4" width="15.8" height="2.4" rx="0" fill="#fff" stroke="#000" stroke-width="1.2"/><path d="M428.2,398.8 L444.0,398.8 L440.4,402.4 L447.8,412.0 L447.8,422.7 L428.2,422.7 Z" fill="#fff" stroke="#000" stroke-width="1.4" stroke-linejoin="round"/><rect x="436.5" y="401.5" width="2.5" height="6.0" rx="0" fill="#333" stroke="none" stroke-width="0"/><rect x="436.5" y="401.5" width="6.5" height="1.5" rx="0" fill="#222" stroke="none" stroke-width="0"/><rect x="428.1" y="421.5" width="19.5" height="2.0" rx="0" fill="#000" stroke="none" stroke-width="0"/><rect x="428.1" y="422.7" width="19.5" height="8.3" rx="0" fill="#fff" stroke="#000" stroke-width="1.3"/><rect x="427.5" y="431.0" width="20.7" height="5.9" rx="0" fill="#fff" stroke="#000" stroke-width="1.2"/><line x1="434.4" y1="431.0" x2="434.4" y2="436.9" stroke="#000" stroke-width="1"/><line x1="441.3" y1="431.0" x2="441.3" y2="436.9" stroke="#000" stroke-width="1"/><line x1="429.0" y1="436.9" x2="429.0" y2="439.8" stroke="#000" stroke-width="1.2"/><line x1="446.8" y1="436.9" x2="446.8" y2="439.8" stroke="#000" stroke-width="1.2"/><rect x="426.9" y="439.8" width="23.1" height="13.0" rx="1.8" fill="#000"/><rect x="428.4" y="449.8" width="20.1" height="2.2" fill="#444"/><rect x="428.4" y="441.5" width="8.9" height="7.0" rx="1.4" fill="#fff"/><rect x="439.6" y="441.5" width="8.9" height="7.0" rx="1.4" fill="#fff"/></g>
<g id="tmvr" transform="translate(991.5,0) scale(-1,1)"><rect x="440.0" y="392.4" width="21.0" height="20.0" rx="0" fill="#fff" stroke="#000" stroke-width="1.3"/><rect x="461.0" y="387.1" width="16.4" height="25.3" rx="1.5" fill="#fff" stroke="#000" stroke-width="1.6"/><rect x="462.0" y="396.0" width="12.0" height="2.0" rx="0" fill="#888" stroke="none" stroke-width="0"/><rect x="462.0" y="408.0" width="12.0" height="2.0" rx="0" fill="#888" stroke="none" stroke-width="0"/><line x1="458.5" y1="392.4" x2="458.5" y2="412.4" stroke="#000" stroke-width="1"/><rect x="473.5" y="387.5" width="4.1" height="24.5" rx="0" fill="#000" stroke="none" stroke-width="0"/><path d="M477.4,390.5 Q484,401.5 477.4,412" fill="none" stroke="#000" stroke-width="1.5"/><line x1="479.0" y1="401.5" x2="483.0" y2="401.5" stroke="#000" stroke-width="2.5"/><rect x="421.0" y="410.8" width="9.0" height="18.4" rx="1" fill="#fff" stroke="#000" stroke-width="1.3"/><path d="M421.4,399.3 L413.1,399.6 Q411.2,399.6 411.2,401.3 L411.2,408.1 L415.9,411.1 L421.4,411.1 Z" fill="#fff" stroke="#000" stroke-width="1.5" stroke-linejoin="round"/><path d="M421.4,441.0 L413.1,440.7 Q411.2,440.7 411.2,439.0 L411.2,431.5 L415.9,428.0 L421.4,428.0 Z" fill="#fff" stroke="#000" stroke-width="1.5" stroke-linejoin="round"/><rect x="416.7" y="411.1" width="4.7" height="16.9" rx="0" fill="#fff" stroke="#000" stroke-width="1.4"/><ellipse cx="414.6" cy="419.6" rx="2.1" ry="5.9" fill="#fff" stroke="#000" stroke-width="1.4"/><rect x="429.3" y="375.9" width="17.1" height="11.9" rx="0" fill="#fff" stroke="#000" stroke-width="1.3"/><line x1="429.3" y1="380.7" x2="446.4" y2="380.7" stroke="#000" stroke-width="1"/><line x1="433.4" y1="375.9" x2="433.4" y2="380.7" stroke="#000" stroke-width="1"/><line x1="442.3" y1="375.9" x2="442.3" y2="380.7" stroke="#000" stroke-width="1"/><line x1="437.9" y1="380.7" x2="437.9" y2="387.8" stroke="#000" stroke-width="1"/><path d="M427.1,388.3 L448.7,388.3 L448.7,392.2 L445.5,396.6 L427.1,396.6 Z" fill="#fff" stroke="#000" stroke-width="1.5" stroke-linejoin="round"/><rect x="427.5" y="388.8" width="20.8" height="2.8" rx="0" fill="#888" stroke="none" stroke-width="0"/><rect x="428.2" y="396.4" width="15.8" height="2.4" rx="0" fill="#fff" stroke="#000" stroke-width="1.2"/><path d="M428.2,398.8 L444.0,398.8 L440.4,402.4 L447.8,412.0 L447.8,422.7 L428.2,422.7 Z" fill="#fff" stroke="#000" stroke-width="1.4" stroke-linejoin="round"/><rect x="436.5" y="401.5" width="2.5" height="6.0" rx="0" fill="#333" stroke="none" stroke-width="0"/><rect x="436.5" y="401.5" width="6.5" height="1.5" rx="0" fill="#222" stroke="none" stroke-width="0"/><rect x="428.1" y="421.5" width="19.5" height="2.0" rx="0" fill="#000" stroke="none" stroke-width="0"/><rect x="428.1" y="422.7" width="19.5" height="8.3" rx="0" fill="#fff" stroke="#000" stroke-width="1.3"/><rect x="427.5" y="431.0" width="20.7" height="5.9" rx="0" fill="#fff" stroke="#000" stroke-width="1.2"/><line x1="434.4" y1="431.0" x2="434.4" y2="436.9" stroke="#000" stroke-width="1"/><line x1="441.3" y1="431.0" x2="441.3" y2="436.9" stroke="#000" stroke-width="1"/><line x1="429.0" y1="436.9" x2="429.0" y2="439.8" stroke="#000" stroke-width="1.2"/><line x1="446.8" y1="436.9" x2="446.8" y2="439.8" stroke="#000" stroke-width="1.2"/><rect x="426.9" y="439.8" width="23.1" height="13.0" rx="1.8" fill="#000"/><rect x="428.4" y="449.8" width="20.1" height="2.2" fill="#444"/><rect x="428.4" y="441.5" width="8.9" height="7.0" rx="1.4" fill="#fff"/><rect x="439.6" y="441.5" width="8.9" height="7.0" rx="1.4" fill="#fff"/></g>
<g id="tmvc"><rect x="459.6" y="413.7" width="74.1" height="56.8" rx="5" fill="#fff" stroke="#000" stroke-width="1.5"/><line x1="460.5" y1="425.3" x2="532.8" y2="425.3" stroke="#000" stroke-width="1.2"/><circle cx="474.4" cy="419.2" r="3" fill="#fff" stroke="#000" stroke-width="1.2"/><line x1="472.4" y1="419.2" x2="476.4" y2="419.2" stroke="#000" stroke-width="1"/><line x1="474.4" y1="417.2" x2="474.4" y2="421.2" stroke="#000" stroke-width="1"/><circle cx="518.6" cy="419.2" r="3" fill="#fff" stroke="#000" stroke-width="1.2"/><line x1="516.6" y1="419.2" x2="520.6" y2="419.2" stroke="#000" stroke-width="1"/><line x1="518.6" y1="417.2" x2="518.6" y2="421.2" stroke="#000" stroke-width="1"/><circle cx="474" cy="458.5" r="1.8" fill="#fff" stroke="#000" stroke-width="1"/><line x1="470.8" y1="458.5" x2="477.2" y2="458.5" stroke="#000" stroke-width="0.6"/><line x1="474.0" y1="455.3" x2="474.0" y2="461.7" stroke="#000" stroke-width="0.6"/><circle cx="518.7" cy="458.5" r="1.8" fill="#fff" stroke="#000" stroke-width="1"/><line x1="515.5" y1="458.5" x2="521.9" y2="458.5" stroke="#000" stroke-width="0.6"/><line x1="518.7" y1="455.3" x2="518.7" y2="461.7" stroke="#000" stroke-width="0.6"/><rect x="481.0" y="432.6" width="15.0" height="24.2" rx="0" fill="#fff" stroke="#000" stroke-width="1.3"/><rect x="496.0" y="432.6" width="14.5" height="24.2" rx="0" fill="#fff" stroke="#000" stroke-width="1.3"/><rect x="483.5" y="435.0" width="10.0" height="13.0" rx="0" fill="#fff" stroke="#000" stroke-width="1.1"/><rect x="498.5" y="435.0" width="9.5" height="13.0" rx="0" fill="#fff" stroke="#000" stroke-width="1.1"/><rect x="481.5" y="426.0" width="28.5" height="6.6" rx="0" fill="#fff" stroke="#000" stroke-width="1.2"/><rect x="484.0" y="431.3" width="23.0" height="2.2" rx="0" fill="#000" stroke="none" stroke-width="0"/><rect x="479.5" y="447.0" width="3.5" height="7.0" rx="0" fill="#000" stroke="none" stroke-width="0"/><path d="M481.0,456.8 L510.5,456.8 L520.0,463.2 L472.6,463.2 Z" fill="#fff" stroke="#000" stroke-width="1.3" stroke-linejoin="round"/><rect x="472.4" y="464.0" width="47.7" height="8.0" rx="0" fill="#fff" stroke="#000" stroke-width="1.3"/><rect x="472.2" y="471.2" width="47.9" height="3.4" rx="0" fill="#000" stroke="none" stroke-width="0"/><rect x="470.2" y="474.4" width="51.3" height="14.0" rx="0" fill="#fff" stroke="#000" stroke-width="1.6"/><rect x="474.7" y="488.4" width="41.7" height="5.3" rx="0" fill="#fff" stroke="#000" stroke-width="1.2"/><line x1="480.0" y1="488.4" x2="480.0" y2="493.7" stroke="#000" stroke-width="1"/><line x1="511.0" y1="488.4" x2="511.0" y2="493.7" stroke="#000" stroke-width="1"/><rect x="487.4" y="493.7" width="17.9" height="20.0" rx="0" fill="#fff" stroke="#000" stroke-width="1.3"/><path d="M466.0,501.0 L470.0,498.5 L481.0,499.5 L486.3,502.0 L486.3,509.0 L481.0,511.6 L470.0,512.0 L465.3,509.0 Z" fill="#fff" stroke="#000" stroke-width="1.3" stroke-linejoin="round"/><line x1="470.0" y1="499.0" x2="470.0" y2="512.0" stroke="#000" stroke-width="1.2"/><line x1="476.0" y1="501.0" x2="484.0" y2="503.0" stroke="#000" stroke-width="2.5"/><line x1="476.0" y1="506.0" x2="484.0" y2="507.0" stroke="#000" stroke-width="2.5"/><circle cx="505.8" cy="501.5" r="7.2" fill="#fff" stroke="#000" stroke-width="1.6"/><circle cx="506.5" cy="501.5" r="3.8" fill="#fff" stroke="#000" stroke-width="1.5"/><rect x="483.4" y="512.9" width="24.9" height="18.6" rx="3" fill="#fff" stroke="#000" stroke-width="1.6"/><rect x="484.0" y="512.7" width="23.7" height="3.6" rx="0" fill="#000" stroke="none" stroke-width="0"/><rect x="484.0" y="528.0" width="23.7" height="3.7" rx="0" fill="#111" stroke="none" stroke-width="0"/><line x1="490.0" y1="516.0" x2="490.0" y2="528.0" stroke="#000" stroke-width="1.3"/><line x1="503.0" y1="516.0" x2="503.0" y2="528.0" stroke="#000" stroke-width="1.3"/><path d="M482.6,390 Q488,401 482.6,411.8 L509,411.8 Q503.5,401 509,390 Z" fill="#fff" stroke="#000" stroke-width="1.4"/><rect x="488.9" y="390.8" width="12.7" height="18.9" rx="0" fill="#fff" stroke="#000" stroke-width="1.3"/><rect x="482.5" y="410.5" width="26.5" height="2.5" rx="0" fill="#000" stroke="none" stroke-width="0"/><rect x="480.3" y="379.7" width="31.3" height="10.6" rx="1" fill="#fff" stroke="#000" stroke-width="1.4"/><rect x="480.8" y="385.2" width="30.3" height="2.1" rx="0" fill="#000" stroke="none" stroke-width="0"/><path d="M483.2,379.7 L484.5,366 Q485,361.5 489.5,361.5 L502.5,361.5 Q507,361.5 507.4,366 L508.9,379.7 Z" fill="#fff" stroke="#000" stroke-width="1.4"/><clipPath id="capclip"><path d="M483.2,379.7 L484.5,366 Q485,361.5 489.5,361.5 L502.5,361.5 Q507,361.5 507.4,366 L508.9,379.7 Z"/></clipPath><g clip-path="url(#capclip)"><line x1="484.0" y1="366.0" x2="508.0" y2="366.0" stroke="#000" stroke-width="1.1"/><path d="M485.8,366 Q485.8,363.3 488.4,363.3 Q491.0,363.3 491.0,366 L491.0,373.5 L488.4,376.6 L485.8,373.5 Z" fill="#fff" stroke="#000" stroke-width="1.3"/><line x1="486.4" y1="371.8" x2="490.4" y2="371.8" stroke="#777" stroke-width="0.8"/><path d="M494.6,366 Q494.6,363.3 497.2,363.3 Q499.8,363.3 499.8,366 L499.8,373.5 L497.2,376.6 L494.6,373.5 Z" fill="#fff" stroke="#000" stroke-width="1.3"/><line x1="495.2" y1="371.8" x2="499.2" y2="371.8" stroke="#777" stroke-width="0.8"/><path d="M503.2,366 Q503.2,363.3 505.8,363.3 Q508.4,363.3 508.4,366 L508.4,373.5 L505.8,376.6 L503.2,373.5 Z" fill="#fff" stroke="#000" stroke-width="1.3"/><line x1="503.8" y1="371.8" x2="507.8" y2="371.8" stroke="#777" stroke-width="0.8"/></g><rect x="480.8" y="379.9" width="30.3" height="2.1" rx="0" fill="#333" stroke="none" stroke-width="0"/></g>
<line x1="495.5" y1="413" x2="495.5" y2="531" stroke="#222" stroke-width="1"/>
<rect x="337.8" y="540.9" width="11.5" height="41.1" rx="0" fill="#fff" stroke="#000" stroke-width="1.6"/>
<line x1="338.0" y1="555.1" x2="349.3" y2="555.1" stroke="#000" stroke-width="1.3"/>
<line x1="338.0" y1="569.4" x2="349.3" y2="569.4" stroke="#000" stroke-width="1.3"/>
<g stroke="#000" fill="none"><ellipse cx="381.3" cy="253" rx="2.6" ry="3.2" stroke-width="1.2"/><line x1="376.3" y1="253" x2="386.3" y2="253" stroke-width="0.8"/><line x1="381.3" y1="248" x2="381.3" y2="258" stroke-width="0.8"/></g>
<g stroke="#000" fill="none"><ellipse cx="610.4" cy="253" rx="2.6" ry="3.2" stroke-width="1.2"/><line x1="605.4" y1="253" x2="615.4" y2="253" stroke-width="0.8"/><line x1="610.4" y1="248" x2="610.4" y2="258" stroke-width="0.8"/></g>
</svg>
</body></html>
